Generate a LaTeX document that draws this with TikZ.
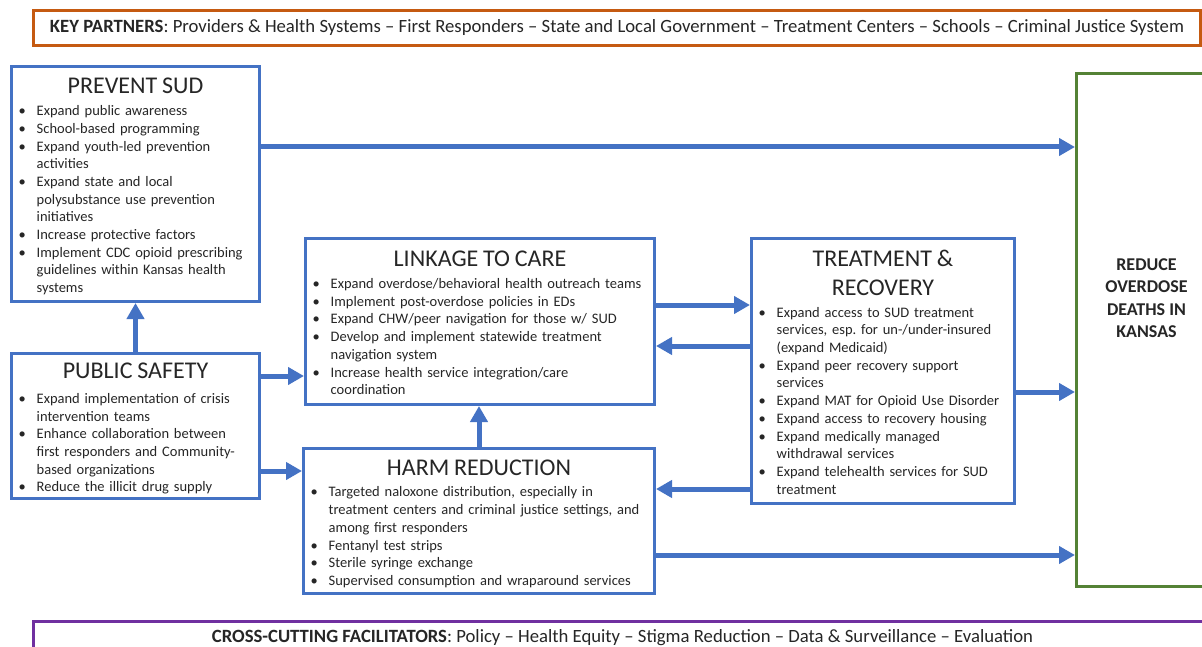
\documentclass[tikz,border=0pt]{standalone}
\usepackage{fontspec}
\setmainfont{Carlito}
\usetikzlibrary{calc, positioning, arrows.meta}
\frenchspacing

\definecolor{flowblue}{HTML}{4472C4}
\definecolor{goalgreen}{HTML}{548235}
\definecolor{partnerorange}{HTML}{C55A11}
\definecolor{facilpurple}{HTML}{7030A0}
\definecolor{inkgray}{HTML}{262626}

\newcommand{\boxtitle}[1]{{\fontsize{24}{29}\selectfont\centering\rule{0pt}{24pt}#1\par}\vspace{4pt}}
\newenvironment{points}{\noindent\begin{tabular}[t]{@{\hspace{1pt}}c@{\hspace{11pt}}l@{}}}{\end{tabular}}

\tikzset{
  area/.style={draw=flowblue, line width=3pt, anchor=north west, inner xsep=6pt, inner ysep=0pt,
    align=left, text=inkgray, font=\fontsize{14.5}{17.7}\selectfont},
  flow/.style={flowblue, line width=5pt, -{Triangle[length=16pt, width=17pt]}},
  banner/.style={line width=3pt, anchor=north west, inner sep=0pt, text=inkgray,
    font=\fontsize{18.7}{22}\selectfont},
}

\begin{document}
\begin{tikzpicture}[x=1pt, y=-1pt]
            \clip (0,0) rectangle (1202,647);
            \fill[white] (0,0) rectangle (1202,647);
            \node[banner, draw=partnerorange, minimum width=1167pt, minimum height=35pt] (partners) at (32,9) {\textbf{KEY PARTNERS}: Providers \& Health Systems – First Responders – State and Local Government – Treatment Centers – Schools – Criminal Justice System};
            \node[banner, draw=facilpurple, minimum width=1178pt, minimum height=32pt] (facilitators) at (32,620) {\textbf{CROSS-CUTTING FACILITATORS}: Policy – Health Equity – Stigma Reduction – Data \& Surveillance – Evaluation};
            \node[area, text width=236pt, minimum height=235pt] (prevent) at (10,65) {\boxtitle{PREVENT SUD}
                \begin{points}
                \textbullet & Expand public awareness\\
                \textbullet & School-based programming\\
                \textbullet & Expand youth-led prevention\\
                & activities\\
                \textbullet & Expand state and local\\
                & polysubstance use prevention\\
                & initiatives\\
                \textbullet & Increase protective factors\\
                \textbullet & Implement CDC opioid prescribing\\
                & guidelines within Kansas health\\
                & systems
                \end{points}};
            \node[area, text width=236pt, minimum height=145pt] (safety) at (10,352) {\boxtitle{PUBLIC SAFETY}\vspace{3pt}
                \begin{points}
                \textbullet & Expand implementation of crisis\\
                & intervention teams\\
                \textbullet & Enhance collaboration between\\
                & first responders and Community-\\
                & based organizations\\
                \textbullet & Reduce the illicit drug supply
                \end{points}};
            \node[area, text width=337pt, minimum height=166pt] (linkage) at (304,237) {\boxtitle{LINKAGE TO CARE}
                \begin{points}
                \textbullet & Expand overdose/behavioral health outreach teams\\
                \textbullet & Implement post-overdose policies in EDs\\
                \textbullet & Expand CHW/peer navigation for those w/ SUD\\
                \textbullet & Develop and implement statewide treatment\\
                & navigation system\\
                \textbullet & Increase health service integration/care\\
                & coordination
                \end{points}};
            \node[area, text width=339pt, minimum height=145pt] (harm) at (302,447) {\boxtitle{HARM REDUCTION}
                \begin{points}
                \textbullet & Targeted naloxone distribution, especially in\\
                & treatment centers and criminal justice settings, and\\
                & among first responders\\
                \textbullet & Fentanyl test strips\\
                \textbullet & Sterile syringe exchange\\
                \textbullet & Supervised consumption and wraparound services
                \end{points}};
            \node[area, text width=251pt, minimum height=265pt] (treat) at (750,237) {\boxtitle{TREATMENT \&\par RECOVERY}
                \begin{points}
                \textbullet & Expand access to SUD treatment\\
                & services, esp. for un-/under-insured\\
                & (expand Medicaid)\\
                \textbullet & Expand peer recovery support\\
                & services\\
                \textbullet & Expand MAT for Opioid Use Disorder\\
                \textbullet & Expand access to recovery housing\\
                \textbullet & Expand medically managed\\
                & withdrawal services\\
                \textbullet & Expand telehealth services for SUD\\
                & treatment
                \end{points}};
            \node[draw=goalgreen, line width=3pt, anchor=north west, minimum width=140pt, minimum height=513pt] (goal) at (1075,72) {};
            \node[text=inkgray, font=\bfseries\fontsize{18}{22.5}\selectfont, align=center] (goaltext) at ($(goal.center)+(0,-32)$) {REDUCE\\OVERDOSE\\DEATHS IN\\KANSAS};
            \coordinate (p1) at ($(prevent.north east)+(0,82)$);
            \coordinate (s1) at ($(safety.north east)+(0,24)$);
            \coordinate (s2) at ($(safety.north east)+(0,119)$);
            \coordinate (l1) at ($(linkage.north east)+(0,68)$);
            \coordinate (t1) at ($(treat.north west)+(0,109)$);
            \coordinate (t2) at ($(treat.north west)+(0,252)$);
            \coordinate (t3) at ($(treat.north east)+(0,155)$);
            \coordinate (h1) at ($(harm.north east)+(0,108)$);
            \draw[flow] (p1) -- (p1 -| goal.west);
            \draw[flow] (safety.north) -- (prevent.south);
            \draw[flow] (s1) -- (s1 -| linkage.west);
            \draw[flow] (s2) -- (s2 -| harm.west);
            \draw[flow] (harm.north) -- (harm.north |- linkage.south);
            \draw[flow] (l1) -- (l1 -| treat.west);
            \draw[flow] (t1) -- (t1 -| linkage.east);
            \draw[flow] (t2) -- (t2 -| harm.east);
            \draw[flow] (t3) -- (t3 -| goal.west);
            \draw[flow] (h1) -- (h1 -| goal.west);
        \end{tikzpicture}
\end{document}
